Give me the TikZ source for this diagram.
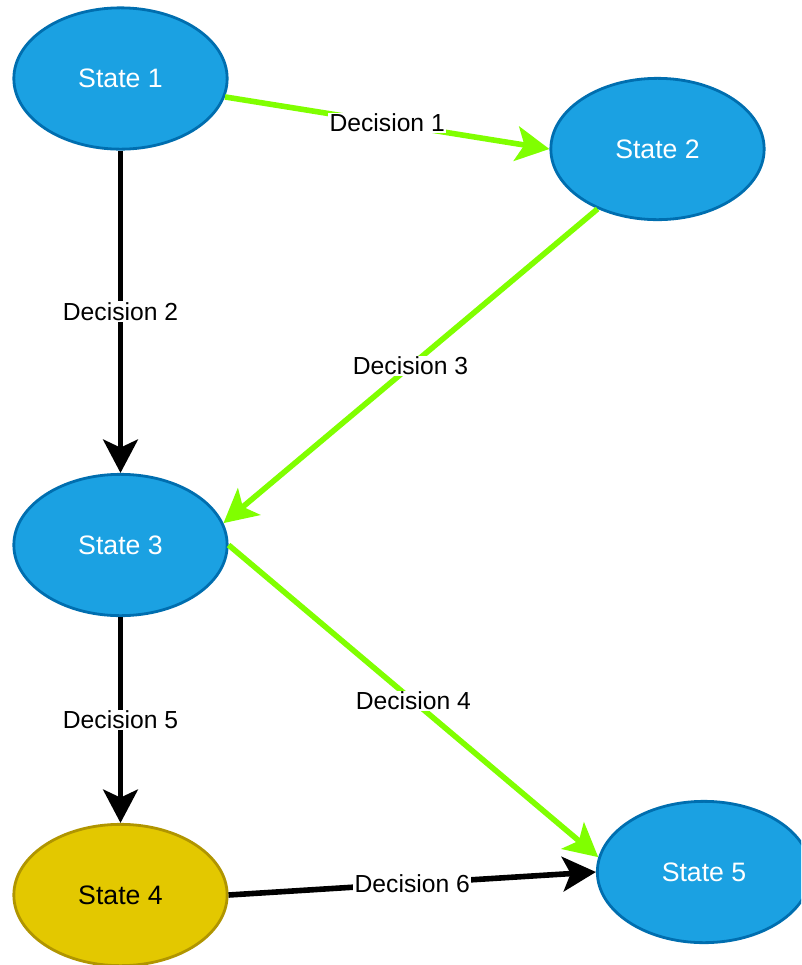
\documentclass[tikz,border=0pt]{standalone}
\usepackage{fontspec}
\setmainfont{Liberation Sans}
\usetikzlibrary{arrows.meta,shapes.geometric}
\definecolor{stateblue}{HTML}{1BA1E2}
\definecolor{stateedge}{HTML}{006EAF}
\definecolor{stategold}{HTML}{E3C800}
\definecolor{goldedge}{HTML}{B09500}
\definecolor{lime}{HTML}{80FF00}
\begin{document}
\begin{tikzpicture}[x=0.75pt,y=-0.75pt,
  state/.style={ellipse, draw=stateedge, fill=stateblue, line width=2.1pt,
    minimum width=160pt, minimum height=106pt, inner sep=0pt, text=white,
    font=\fontsize{20}{24}\selectfont},
  goldstate/.style={state, draw=goldedge, fill=stategold, text=black},
  link/.style={line width=4.2pt, -{Stealth[length=25pt,width=26pt,inset=6pt]}},
  good/.style={link, draw=lime},
  plain/.style={link, draw=black},
  lbl/.style={fill=white, inner sep=1pt, text=black,
    font=\fontsize{18.5}{22}\selectfont}]
\useasboundingbox (0,0) rectangle (801,965);
\clip (0,0) rectangle (801,965);

% states
\node[state]     (s1) at (120.5,78.5) {State 1};
\node[state]     (s2) at (657.5,149)  {State 2};
\node[state]     (s3) at (120.5,545)  {State 3};
\node[goldstate] (s4) at (120.5,895)  {State 4};
\node[state]     (s5) at (704,872)    {State 5};

% decisions
\draw[good]  (s1.-10)  -- node[lbl]{Decision 1} (s2.west);
\draw[plain] (s1.south) -- node[lbl]{Decision 2} (s3.north);
\draw[good]  (s2.-135) -- node[lbl]{Decision 3} (s3.12);
\draw[good]  (s3.east) -- node[lbl]{Decision 4} (s5.172);
\draw[plain] (s3.south) -- node[lbl]{Decision 5} (s4.north);
\draw[plain] (s4.east) -- node[lbl]{Decision 6} (s5.west);
\end{tikzpicture}
\end{document}
